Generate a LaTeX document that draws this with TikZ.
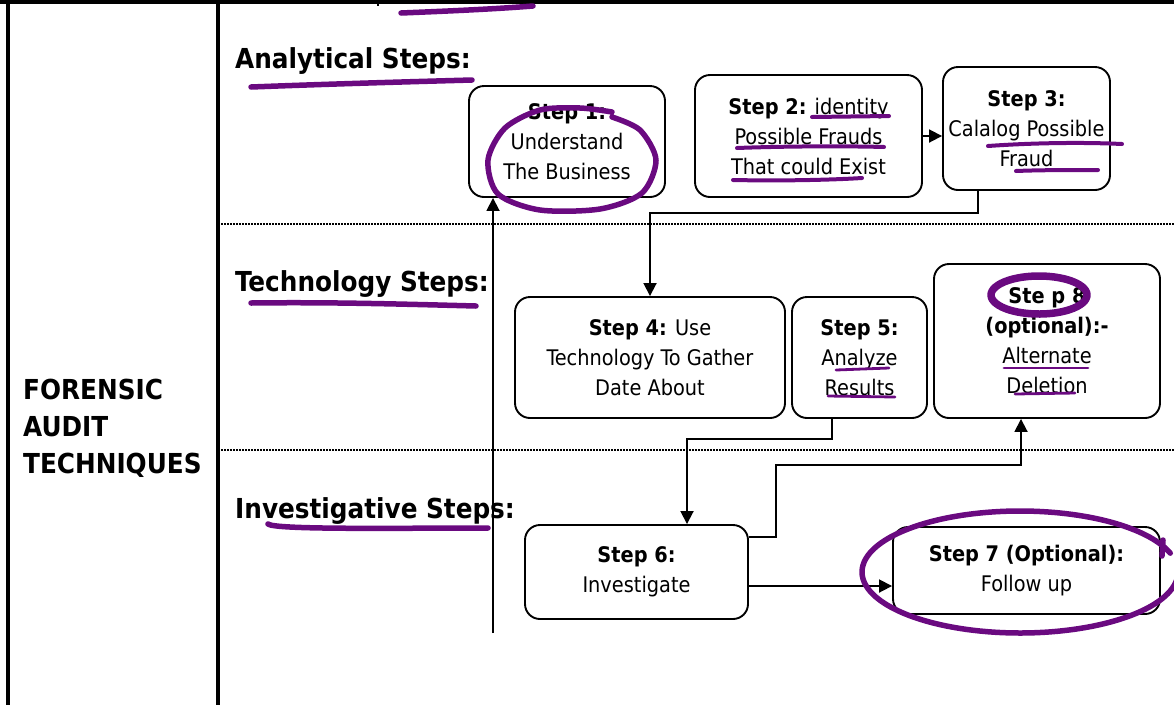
\documentclass[tikz,border=0pt]{standalone}
\usepackage{fontspec}
\setmainfont{DejaVu Sans Condensed}
\usetikzlibrary{arrows.meta}
\definecolor{ink}{RGB}{106,10,128}
\tikzset{
  box/.style={draw, line width=1.9pt, rounded corners=15pt, align=center,
    inner sep=0pt, font=\fontsize{21.5}{30}\selectfont},
  arr/.style={line width=1.8pt, -{Triangle[length=13pt,width=13pt]}},
  rule/.style={line width=3.2pt},
  lane/.style={line width=2pt, dash pattern=on 1.6pt off 1.4pt},
  head/.style={font=\fontsize{27.5}{30}\selectfont\bfseries, anchor=base west, inner sep=0pt},
  pen/.style={draw=ink, line width=5.5pt, line cap=round, line join=round},
  thinpen/.style={pen, line width=4pt},
}
\begin{document}
\begin{tikzpicture}[x=1pt,y=-1pt]
\useasboundingbox (0,0) rectangle (1174,705);

% table frame and lane separators
\draw[rule] (0,2) -- (1174,2);
\draw[rule] (8,0) -- (8,705);
\draw[rule] (218,0) -- (218,705);
\draw[line width=2pt] (378,0) -- (378,6);
\draw[lane] (218,224) -- (1174,224);
\draw[lane] (218,450) -- (1174,450);

% row title and lane headings
\node[anchor=north west, align=left, inner sep=0pt,
      font=\fontsize{27.5}{37}\selectfont\bfseries] (title) at (23,379)
  {FORENSIC\\AUDIT\\TECHNIQUES};
\node[head] (hA) at (235,68) {Analytical Steps:};
\node[head] (hT) at (235,291) {Technology Steps:};
\node[head] (hI) at (235,518) {Investigative Steps:};

% steps
\node[box, minimum width=196pt, minimum height=111pt] (s1) at (567,141.5)
  {\textbf{Step 1:}\\Understand\\The Business};
\node[box, minimum width=227pt, minimum height=122pt] (s2) at (808.5,136)
  {\textbf{Step 2:} identity\\Possible Frauds\\That could Exist};
\node[box, minimum width=167pt, minimum height=123pt] (s3) at (1026.5,128.5)
  {\textbf{Step 3:}\\Calalog Possible\\Fraud};
\node[box, minimum width=270pt, minimum height=121pt] (s4) at (650,357.5)
  {\textbf{Step 4:} Use\\Technology To Gather\\Date About};
\node[box, minimum width=135pt, minimum height=121pt] (s5) at (859.5,357.5)
  {\textbf{Step 5:}\\Analyze\\Results};
\node[box, minimum width=226pt, minimum height=154pt] (s8) at (1047,341)
  {\textbf{Ste p 8}\\\textbf{(optional):-}\\Alternate\\Deletion};
\node[box, minimum width=223pt, minimum height=94pt] (s6) at (636.5,572)
  {\textbf{Step 6:}\\Investigate};
\node[box, minimum width=267pt, minimum height=87pt] (s7) at (1026.5,570.5)
  {\textbf{Step 7 (Optional):}\\Follow up};

% connectors
\draw[arr] (s2.east) -- (s2.east -| s3.west);
\coordinate (c3) at ([xshift=-48.5pt]s3.south);
\draw[arr] (c3) -- ++(0,22) -| (s4.north);
\coordinate (c5) at ([xshift=-27.5pt]s5.south);
\draw[arr] (c5) -- ++(0,20) -| ([xshift=50.5pt]s6.north);
\coordinate (c6a) at ([yshift=35pt]s6.east);
\draw[arr] (c6a) -- ++(27,0) -- ++(0,-72) -| ([xshift=-26pt]s8.south);
\coordinate (c6b) at ([yshift=-14pt]s6.east);
\draw[arr] (c6b) -- (c6b -| s7.west);
\coordinate (foot) at (493,633);
\draw[arr] (foot) -- (foot |- s1.south);

% hand-drawn marker annotations
\draw[pen] (401,13) .. controls (450,11) and (495,9) .. (533,6);
\draw[pen] (251,87) .. controls (330,84) and (400,82) .. (472,80);
\draw[pen] (251,303) .. controls (330,302) and (400,304) .. (476,306);
\draw[pen] (268,524) .. controls (275,530) and (400,528) .. (488,528);
\draw[thinpen] (812,117) -- (889,116);
\draw[thinpen] (737,148) .. controls (790,146) and (850,146) .. (884,147);
\draw[thinpen] (733,180) .. controls (780,181) and (830,180) .. (862,178);
\draw[thinpen] (988,146) .. controls (1030,143) and (1080,142) .. (1122,144);
\draw[thinpen] (1016,171) .. controls (1040,170) and (1070,170) .. (1098,170);
\draw[thinpen, line width=2.8pt] (836,370) -- (889,368);
\draw[thinpen, line width=2.8pt] (828,396) -- (895,397);
\draw[thinpen, line width=2.8pt] (1004,368) -- (1088,368);
\draw[thinpen, line width=2.8pt] (1015,394) -- (1075,393);
% loop round step 1
\draw[pen] plot[smooth] coordinates {(612,112) (580,108) (540,110) (505,128) (488,160)
  (498,194) (540,210) (600,209) (642,193) (656,160) (640,130) (612,117)};
% ring round the step 8 label
\draw[pen, line width=7.5pt] plot[domain=20:400, samples=60, smooth]
  ({1039+48*cos(\x)}, {295-19*sin(\x)});
% ellipse round step 7
\draw[pen] plot[domain=18:352, samples=80, smooth]
  ({1020+158*cos(\x)}, {572-61*sin(\x)});
\draw[pen] (1163,540) -- (1162,556);
\end{tikzpicture}
\end{document}
